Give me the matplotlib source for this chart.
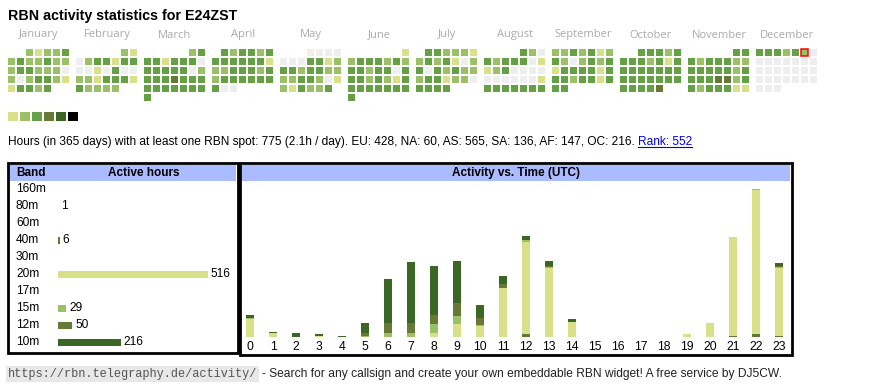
import datetime

import matplotlib

matplotlib.use("Agg")
import matplotlib.pyplot as plt
from matplotlib.patches import Rectangle


# Figure size in pixels
FIG_W, FIG_H = 870, 390
DPI = 100

TITLE = "RBN activity statistics for E24ZST"
YEAR = 2025
TODAY = datetime.date(2025, 12, 6)

MONTH_NAMES = [
    "January", "February", "March", "April", "May", "June",
    "July", "August", "September", "October", "November", "December",
]

# Daily activity level per month (0 = none ... 6 = max)
JAN = [2, 1, 2, 2, 3, 2, 3, 2, 2, 3, 2, 2, 2, 3, 3, 2, 2, 2, 0, 2, 0, 2, 3, 3, 2, 1, 1, 3, 3, 2, 3]
FEB = [2, 1, 0, 2, 3, 3, 1, 3, 3, 0, 0, 1, 0, 3, 0, 0, 2, 2, 1, 3, 3, 3, 1, 3, 2, 2, 2, 2]
MAR = [2, 3, 3, 3, 1, 3, 3, 3, 0, 3, 3, 3, 3, 3, 0, 2, 3, 3, 3, 4, 3, 3, 3, 3, 3, 3, 3, 3, 3, 3, 3]
APR = [3, 2, 3, 3, 2, 3, 3, 3, 3, 3, 3, 3, 1, 2, 2, 3, 3, 3, 2, 3, 2, 3, 3, 3, 3, 3, 3, 3, 0, 0]
MAY = [0, 0, 0, 0, 0, 0, 0, 3, 3, 1, 2, 3, 3, 2, 3, 3, 2, 2, 2, 2, 3, 3, 2, 0, 1, 2, 1, 3, 2, 2, 3]
JUN = [1, 2, 3, 3, 3, 2, 3, 2, 3, 3, 2, 3, 3, 0, 3, 3, 3, 2, 3, 2, 1, 3, 3, 3, 3, 3, 3, 3, 3, 3]
JUL = [3, 3, 2, 2, 2, 1, 2, 3, 2, 3, 1, 0, 2, 3, 0, 3, 2, 3, 2, 2, 2, 3, 3, 1, 2, 2, 0, 3, 3, 3, 3]
AUG = [3, 2, 0, 3, 2, 3, 3, 3, 0, 1, 1, 2, 3, 0, 0, 0, 0, 0, 0, 0, 0, 0, 0, 1, 3, 3, 3, 3, 3, 3, 3]
SEP = [2, 2, 3, 2, 3, 1, 2, 3, 2, 0, 2, 3, 2, 3, 1, 3, 3, 3, 3, 1, 3, 3, 3, 2, 3, 3, 1, 3, 3, 3]
OCT = [3, 3, 3, 2, 3, 3, 3, 3, 2, 3, 1, 3, 3, 3, 3, 3, 3, 3, 3, 3, 3, 3, 3, 3, 3, 3, 3, 3, 3, 3, 4]
NOV = [3, 3, 3, 2, 3, 3, 3, 2, 2, 3, 3, 3, 3, 3, 2, 3, 3, 3, 3, 4, 4, 2, 3, 3, 2, 3, 3, 3, 1, 1]
DEC = [3, 3, 3, 2, 3, 2] + [0] * 25

LEVEL_COLORS = ["#eeeeee", "#d9e08a", "#9cc068", "#65a044", "#667a36", "#3b6625", "#000000"]

# Band table
BANDS = ["160m", "80m", "60m", "40m", "30m", "20m", "17m", "15m", "12m", "10m"]
BAND_HOURS = [0, 1, 0, 6, 0, 516, 0, 29, 50, 216]
BAND_COLORS = ["#999999", "#8fae55", "#999999", "#5f7a32", "#999999",
               "#d9e08a", "#999999", "#9cc068", "#667a36", "#3b6625"]

# Activity per UTC hour, by band
HOURS = list(range(24))
HOURLY_40M = [0, 0, 0, 0, 0, 0, 0, 0, 0, 0, 0, 0, 2, 0, 0, 0, 0, 0, 0, 0, 0, 1, 2, 1]
HOURLY_20M = [15, 3, 0, 1, 0, 0, 0, 0, 3, 11, 9, 42, 79, 59, 13, 0, 0, 0, 0, 2, 12, 85, 124, 58]
HOURLY_15M = [1, 0, 0, 0, 0, 1, 3, 3, 8, 7, 1, 0, 2, 1, 0, 0, 0, 0, 0, 0, 0, 0, 1, 1]
HOURLY_12M = [0, 0, 0, 0, 0, 2, 9, 9, 8, 11, 6, 3, 0, 1, 0, 0, 0, 0, 0, 0, 0, 0, 0, 1]
HOURLY_10M = [3, 1, 3, 1, 1, 9, 38, 52, 42, 36, 11, 7, 4, 4, 2, 0, 0, 0, 0, 0, 0, 0, 0, 2]

SUMMARY = ("Hours (in 365 days) with at least one RBN spot: 775 (2.1h / day). "
           "EU: 428, NA: 60, AS: 565, SA: 136, AF: 147, OC: 216.")
RANK_TEXT = "Rank: 552"
FOOTER_URL = "https://rbn.telegraphy.de/activity/"
FOOTER_TEXT = "- Search for any callsign and create your own embeddable RBN widget! A free service by DJ5CW."

FONT = "Liberation Sans"
HEADER_BLUE = "#aabbff"

# Layout (pixels)
CAL_LEFT, CAL_TOP = 8, 49
CELL, CELL_PITCH, MONTH_PITCH = 7, 9, 68
BAND_ROW_TOP, BAND_ROW_PITCH = 189.3, 17
HOUR_LEFT, HOUR_PITCH = 250, 23
BASELINE, PX_PER_HOUR = 336.7, 1.163


def px_rect(left, top, width, height):
    """Convert a pixel box (top-left origin) to figure coordinates."""
    return [left / FIG_W, 1 - (top + height) / FIG_H, width / FIG_W, height / FIG_H]


def draw_calendar(ax):
    months = [JAN, FEB, MAR, APR, MAY, JUN, JUL, AUG, SEP, OCT, NOV, DEC]
    for m, levels in enumerate(months):
        x0 = CAL_LEFT + m * MONTH_PITCH
        ax.text(x0 + 31, 35, MONTH_NAMES[m], ha="center", va="center",
                fontsize=8, color="#aaaaaa", family="Open Sans")
        offset = datetime.date(YEAR, m + 1, 1).weekday()
        for d, level in enumerate(levels):
            slot = offset + d
            x = x0 + (slot % 7) * CELL_PITCH
            y = CAL_TOP + (slot // 7) * CELL_PITCH
            day = datetime.date(YEAR, m + 1, d + 1)
            ax.add_patch(Rectangle((x, y), CELL, CELL, facecolor=LEVEL_COLORS[level],
                                   edgecolor="red" if day == TODAY else "none",
                                   lw=1.1 if day == TODAY else 0))

    # level legend
    for k, color in enumerate(LEVEL_COLORS[1:]):
        ax.add_patch(Rectangle((8 + 12 * k, 112), 10, 9, facecolor=color, lw=0))


def draw_summary(fig, ax):
    txt = ax.text(8, 142, SUMMARY + " ", ha="left", va="center", fontsize=8.55,
                  family=FONT, color="black")
    fig.canvas.draw()
    bb = txt.get_window_extent().transformed(ax.transData.inverted())
    x_link = max(bb.x0, bb.x1)
    link = ax.text(x_link, 142, RANK_TEXT, ha="left", va="center", fontsize=8.55,
                   family=FONT, color="#0000ee")
    fig.canvas.draw()
    lb = link.get_window_extent().transformed(ax.transData.inverted())
    ax.plot([lb.x0, lb.x1], [147, 147], color="#0000ee", lw=0.8)


def draw_band_table(fig, ax):
    ax.add_patch(Rectangle((8, 163), 230, 190, facecolor="none", edgecolor="black", lw=2, zorder=5))
    ax.add_patch(Rectangle((10, 165), 226, 16, facecolor=HEADER_BLUE, lw=0))
    ax.text(16, 173, "Band", ha="left", va="center", fontsize=8.5, fontweight="bold", family=FONT)
    ax.text(144, 173, "Active hours", ha="center", va="center", fontsize=8.5,
            fontweight="bold", family=FONT)
    for i, band in enumerate(BANDS):
        ax.text(16, BAND_ROW_TOP + i * BAND_ROW_PITCH, band, ha="left", va="center",
                fontsize=8.6, family=FONT)

    top, bottom = 181, 351
    axb = fig.add_axes(px_rect(58, top, 174, bottom - top))
    axb.set_facecolor("none")
    rows = list(range(len(BANDS)))
    axb.barh(rows, BAND_HOURS, height=0.42, color=BAND_COLORS)
    for i, value in enumerate(BAND_HOURS):
        if value > 0:
            axb.annotate(str(value), (value, i), xytext=(3, 0), textcoords="offset pixels",
                         ha="left", va="center", fontsize=8.6, family=FONT)
    axb.set_xlim(0, 174 / 0.29)
    axb.set_ylim((bottom - BAND_ROW_TOP) / BAND_ROW_PITCH, (top - BAND_ROW_TOP) / BAND_ROW_PITCH)
    axb.axis("off")


def draw_hourly_chart(fig, ax):
    ax.add_patch(Rectangle((240, 163), 552, 192, facecolor="none", edgecolor="black", lw=2, zorder=5))
    ax.add_patch(Rectangle((242, 165), 548, 16, facecolor=HEADER_BLUE, lw=0))
    ax.text(516, 173, "Activity vs. Time (UTC)", ha="center", va="center", fontsize=8.5,
            fontweight="bold", family=FONT)

    left, right, top = 242, 790, 182
    axh = fig.add_axes(px_rect(left, top, right - left, BASELINE - top))
    axh.set_facecolor("none")
    bottom = [0] * 24
    series = [
        (HOURLY_40M, BAND_COLORS[3]),
        (HOURLY_20M, BAND_COLORS[5]),
        (HOURLY_15M, BAND_COLORS[7]),
        (HOURLY_12M, BAND_COLORS[8]),
        (HOURLY_10M, BAND_COLORS[9]),
    ]
    for values, color in series:
        axh.bar(HOURS, values, width=0.35, bottom=bottom, color=color, lw=0)
        bottom = [b + v for b, v in zip(bottom, values)]

    axh.set_xlim((left - HOUR_LEFT) / HOUR_PITCH, (right - HOUR_LEFT) / HOUR_PITCH)
    axh.set_ylim(0, (BASELINE - top) / PX_PER_HOUR)
    axh.set_xticks(HOURS)
    axh.set_xticklabels([str(h) for h in HOURS], fontsize=8.7, family=FONT)
    axh.tick_params(axis="x", length=0, pad=3)
    axh.set_yticks([])
    for spine in axh.spines.values():
        spine.set_visible(False)


def draw_footer(fig, ax):
    url = ax.text(8, 374, FOOTER_URL, ha="left", va="center", fontsize=8.6,
                  family="Liberation Mono", color="#555555",
                  bbox=dict(facecolor="#e8e8e8", edgecolor="none", pad=1.2))
    fig.canvas.draw()
    bb = url.get_window_extent().transformed(ax.transData.inverted())
    ax.text(bb.x1 + 5, 374, FOOTER_TEXT, ha="left", va="center", fontsize=8.65,
            family=FONT, color="#222222")


def main():
    fig = plt.figure(figsize=(FIG_W / DPI, FIG_H / DPI), dpi=DPI)
    ax = fig.add_axes([0, 0, 1, 1])
    ax.set_xlim(0, FIG_W)
    ax.set_ylim(FIG_H, 0)
    ax.axis("off")

    ax.text(8, 16, TITLE, ha="left", va="center", fontsize=10.3, fontweight="bold", family=FONT)
    draw_calendar(ax)
    draw_summary(fig, ax)
    draw_band_table(fig, ax)
    draw_hourly_chart(fig, ax)
    draw_footer(fig, ax)

    fig.savefig("out.png", dpi=DPI)
    plt.close(fig)


if __name__ == "__main__":
    main()
